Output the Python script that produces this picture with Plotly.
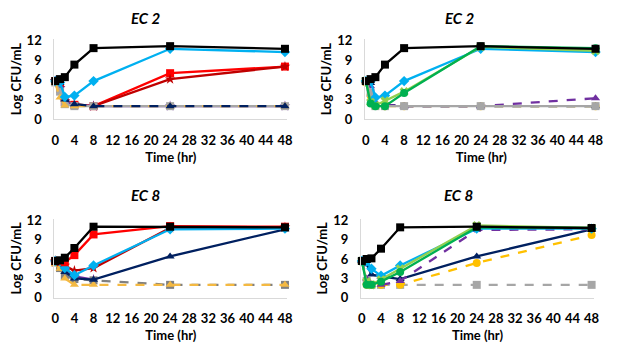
import plotly.graph_objects as go

time = [0, 1, 2, 4, 8, 24, 48]
x_ticks = list(range(0, 49, 4))
y_ticks = [0, 3, 6, 9, 12]

# Panel 1: EC 2 (left)
p1_black = [5.8, 6.1, 6.4, 8.3, 10.8, 11.1, 10.7]
p1_cyan = [5.8, 5.6, 3.4, 3.6, 5.8, 10.7, 10.2]
p1_red = [5.8, 4.6, 2.6, 2.2, 2.0, 7.0, 8.0]
p1_darkred = [5.8, 4.8, 2.8, 2.3, 2.0, 6.1, 8.0]
p1_purple = [5.8, 4.7, 2.7, 2.2, 2.0, 2.0, 2.0]
p1_gray = [5.6, 4.2, 2.3, 2.0, 2.0, 2.0, 2.0]
p1_gold = [5.5, 3.3, 2.1, 2.0, 2.0, 2.0, 2.0]
p1_navy = [5.8, 5.5, 3.0, 2.3, 2.0, 2.0, 2.0]

# Panel 2: EC 2 (right)
p2_black = [5.8, 6.1, 6.4, 8.3, 10.8, 11.1, 10.7]
p2_cyan = [5.8, 5.8, 3.3, 3.6, 5.8, 10.7, 10.2]
p2_lightgreen = [5.8, 2.6, 2.1, 2.8, 4.2, 11.0, 10.4]
p2_green = [5.8, 2.4, 2.0, 2.0, 4.0, 11.1, 10.8]
p2_navy = [5.8, 5.5, 2.6, 2.2, 2.0, 2.0, 2.0]
p2_gold = [5.6, 3.6, 2.2, 2.0, 2.0, 2.0, 2.0]
p2_purple = [5.8, 5.0, 2.5, 2.2, 2.0, 2.0, 3.2]
p2_gray = [5.8, 4.0, 2.0, 2.0, 2.0, 2.0, 2.0]

# Panel 3: EC 8 (left)
p3_black = [5.7, 5.8, 6.2, 7.7, 11.0, 11.0, 10.9]
p3_red = [5.7, 5.7, 5.5, 6.6, 9.8, 11.1, 11.0]
p3_darkred = [5.7, 5.5, 5.0, 4.2, 4.6, 10.8, 10.9]
p3_cyan = [5.7, 5.6, 4.6, 3.5, 5.0, 10.6, 10.7]
p3_navy = [5.7, 5.3, 4.0, 3.0, 2.8, 6.4, 10.6]
p3_purple = [5.5, 5.0, 4.2, 3.3, 2.8, None, None]
p3_gray = [5.5, 4.6, 3.4, 2.9, 2.7, 2.0, 2.0]
p3_gold = [5.2, 4.5, 3.0, 2.0, 2.0, 2.0, 2.0]

# Panel 4: EC 8 (right)
p4_black = [5.7, 6.0, 6.1, 7.6, 10.9, 11.0, 10.8]
p4_cyan = [5.7, 5.6, 4.5, 3.4, 5.0, 10.7, 10.7]
p4_lightgreen = [5.7, 2.5, 2.0, 2.8, 4.5, 11.2, 10.8]
p4_green = [5.7, 2.0, 2.0, 2.5, 4.0, 10.9, 10.8]
p4_navy = [5.7, 5.2, 3.6, 3.3, 2.9, 6.4, 10.6]
p4_purple = [5.7, 3.0, 2.0, 2.0, 2.6, 10.5, 10.6]
p4_yellow = [5.7, 2.0, 2.0, 2.0, 2.0, 5.4, 9.7]
p4_gray = [5.7, 2.6, 2.0, 2.0, 2.0, 2.0, 2.0]

BLACK = "#000000"
RED = "#FF0000"
DARKRED = "#C00000"
CYAN = "#00B0F0"
NAVY = "#002060"
PURPLE = "#7030A0"
GOLD = "#F4B942"
YELLOW = "#FFC000"
GRAY = "#A6A6A6"
GREEN = "#00B050"
LGREEN = "#92D050"

panels = [
    ("x", "y", [
        (p1_red, RED, "square", "solid"),
        (p1_darkred, DARKRED, "star", "solid"),
        (p1_purple, PURPLE, "star", "solid"),
        (p1_gray, GRAY, "square", "solid"),
        (p1_gold, GOLD, "triangle-up", "dash"),
        (p1_navy, NAVY, "triangle-up", "dash"),
        (p1_cyan, CYAN, "diamond", "solid"),
        (p1_black, BLACK, "square", "solid"),
    ]),
    ("x2", "y2", [
        (p2_gold, YELLOW, "circle", "dash"),
        (p2_navy, NAVY, "triangle-up", "dash"),
        (p2_purple, PURPLE, "triangle-up", "dash"),
        (p2_gray, GRAY, "square", "solid"),
        (p2_cyan, CYAN, "diamond", "solid"),
        (p2_lightgreen, LGREEN, "x", "solid"),
        (p2_green, GREEN, "circle", "solid"),
        (p2_black, BLACK, "square", "solid"),
    ]),
    ("x3", "y3", [
        (p3_purple, PURPLE, "star", "solid"),
        (p3_gray, "#808080", "square", "dash"),
        (p3_gold, GOLD, "triangle-up", "dash"),
        (p3_navy, NAVY, "triangle-up", "solid"),
        (p3_darkred, DARKRED, "star", "solid"),
        (p3_cyan, CYAN, "diamond", "solid"),
        (p3_red, RED, "square", "solid"),
        (p3_black, BLACK, "square", "solid"),
    ]),
    ("x4", "y4", [
        (p4_gray, GRAY, "square", "dash"),
        (p4_yellow, YELLOW, "circle", "dash"),
        (p4_navy, NAVY, "triangle-up", "solid"),
        (p4_purple, PURPLE, "triangle-up", "dash"),
        (p4_cyan, CYAN, "diamond", "solid"),
        (p4_lightgreen, LGREEN, "x", "solid"),
        (p4_green, GREEN, "circle", "solid"),
        (p4_black, BLACK, "square", "solid"),
    ]),
]

fig = go.Figure()
for xa, ya, series in panels:
    for vals, col, sym, dash in series:
        fig.add_trace(go.Scatter(
            x=time, y=vals, xaxis=xa, yaxis=ya, mode="lines+markers",
            line=dict(color=col, width=2.3, dash=dash),
            marker=dict(color=col, symbol=sym, size=8,
                        line=dict(width=0)),
            showlegend=False, cliponaxis=False,
        ))

W, H = 640, 353
FONT = "Lato"

def xdom(x0px):
    left = x0px - 0.2 * 4.854
    right = x0px + 48.5 * 4.854
    return [left / W, right / W]

def ydom(top12, bottom0):
    return [1 - bottom0 / H, 1 - top12 / H]

axis_common_x = dict(
    range=[-0.2, 48.5], tickvals=x_ticks, showgrid=False, zeroline=False,
    showline=True, linecolor="#D9D9D9", linewidth=1, ticks="",
    ticklabelstandoff=9,
    tickfont=dict(family=FONT, size=13, color="#000", weight="bold"),
    title=dict(text="Time (hr)", font=dict(family=FONT, size=13, color="#000", weight="bold"), standoff=5),
)
axis_common_y = dict(
    range=[0, 12.2], tickvals=y_ticks, showgrid=False, zeroline=False,
    showline=True, linecolor="#D9D9D9", linewidth=1, ticks="",
    ticklabelstandoff=9,
    tickfont=dict(family=FONT, size=13, color="#000", weight="bold"),
    title=dict(text="Log CFU/mL", font=dict(family=FONT, size=13, color="#000", weight="bold"), standoff=2),
)

yd_top = ydom(34.7, 117.3)
yd_bot = ydom(222.7, 303.7)

def ext(d):
    span = d[1] - d[0]
    return [d[0], d[0] + span * 12.2 / 12]

fig.update_layout(
    width=W, height=H, margin=dict(l=0, r=0, t=0, b=0),
    paper_bgcolor="white", plot_bgcolor="white",
    xaxis=dict(domain=xdom(53), anchor="y", **axis_common_x),
    yaxis=dict(domain=ext(yd_top), anchor="x", **axis_common_y),
    xaxis2=dict(domain=xdom(368), anchor="y2", **axis_common_x),
    yaxis2=dict(domain=ext(yd_top), anchor="x2", **axis_common_y),
    xaxis3=dict(domain=xdom(53), anchor="y3", **axis_common_x),
    yaxis3=dict(domain=ext(yd_bot), anchor="x3", **axis_common_y),
    xaxis4=dict(domain=xdom(364), anchor="y4", **axis_common_x),
    yaxis4=dict(domain=ext(yd_bot), anchor="x4", **axis_common_y),
)

titles = [("EC 2", 145, 12), ("EC 2", 463, 12), ("EC 8", 145, 196), ("EC 8", 462, 196)]
for txt, px, py in titles:
    fig.add_annotation(
        text=f"<i><b>{txt}</b></i>", x=px / W, y=1 - py / H, xref="paper", yref="paper",
        showarrow=False, xanchor="center", yanchor="middle",
        font=dict(family=FONT, size=15, color="#000"),
    )

fig.write_html("out.html")
